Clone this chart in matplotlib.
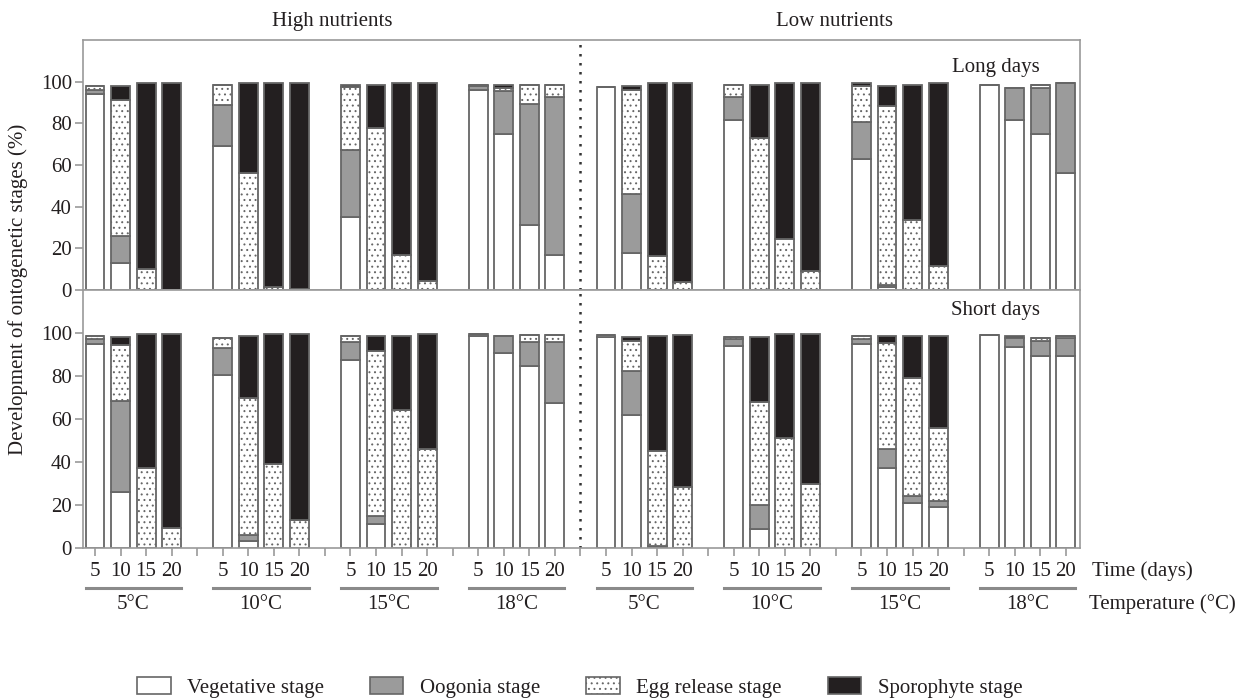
import numpy as np
import matplotlib
matplotlib.use('Agg')
import matplotlib.pyplot as plt
from matplotlib.patches import Patch
from matplotlib.transforms import blended_transform_factory

plt.rcParams['font.family'] = ['Liberation Serif', 'DejaVu Serif']
plt.rcParams['hatch.linewidth'] = 0.7

days = ['5', '10', '15', '20']
temps = ['5°C', '10°C', '15°C', '18°C', '5°C', '10°C', '15°C', '18°C']
nutrients = ['High nutrients', 'Low nutrients']
stages = ['Vegetative stage', 'Oogonia stage', 'Egg release stage', 'Sporophyte stage']

# long days (top panel), 8 groups x 4 sampling days
veg_long = [94, 13, 0, 0, 69, 0, 0, 0, 35, 0, 0, 0, 96, 75, 31, 17,
            97.5, 18, 0, 0, 81.5, 0, 0, 0, 63, 1.5, 0, 0, 98.5, 81.5, 75, 56]
oog_long = [2, 13, 0, 0, 20, 0, 0, 0, 32, 0, 0, 0, 2, 20.5, 58.5, 75.5,
            0, 28, 0, 0, 11, 0, 0, 0, 17.5, 1, 0, 0, 0, 15.5, 22, 43.5]
egg_long = [2, 65, 10, 0, 9.5, 56, 1.5, 0.5, 30.5, 78, 17, 4.5, 0.5, 1.5, 9, 6,
            0, 50, 16.5, 4, 6, 73, 24.5, 9, 17.5, 86, 33.5, 11.5, 0, 0, 1.5, 0]
spor_long = [0, 7, 89.5, 99.5, 0, 43.5, 98, 99, 1, 20.5, 82.5, 95, 0, 1.5, 0, 0,
             0, 2, 83, 95.5, 0, 25.5, 75, 90.5, 1.5, 9.5, 65, 88, 0, 0, 0, 0]

# short days (bottom panel)
veg_short = [95, 26, 0, 0, 80.5, 3.5, 0, 0, 87.5, 11, 0, 0, 98.5, 90.5, 84.5, 67.5,
             98, 62, 0, 0, 94, 9, 0, 0, 95, 37, 21, 19, 99, 93.5, 89.5, 89.5]
oog_short = [2, 42.5, 0, 0, 12.5, 2.5, 0, 0, 8.5, 4, 0, 0, 1, 8, 11.5, 28.5,
             0, 20.5, 1, 0, 3, 11, 0, 0, 2, 9, 3, 3, 0, 4, 7, 8]
egg_short = [1.5, 26, 37, 9.5, 4.5, 64, 39, 13, 2.5, 76.5, 64, 46, 0, 0, 3, 3,
             1, 14, 44, 28.5, 1, 48, 51, 30, 1.5, 49.5, 55, 34, 0, 0, 1, 1]
spor_short = [0, 3.5, 62.5, 90, 0, 28.5, 60.5, 86.5, 0, 7, 34.5, 53.5, 0, 0, 0, 0,
              0, 1.5, 53.5, 70.5, 0, 30, 48.5, 69.5, 0, 3, 19.5, 42.5, 0, 1, 0, 0]

ink = '#231f20'
grey_line = '#9a9a9a'
edge = '#666666'
face = ['white', '#9b9b9b', 'white', '#231f20']
hatches = [None, None, '...', None]

# 4 bars per group, one empty slot between groups
x = np.array([g * 5 + b for g in range(8) for b in range(4)])

fig = plt.figure(figsize=(12.44, 7), dpi=100)
ax_top = fig.add_axes([0.0667, 0.5857, 0.8014, 0.3571])
ax_bot = fig.add_axes([0.0667, 0.2171, 0.8014, 0.3686])


def draw_panel(ax, series):
    bottom = np.zeros(len(x))
    for vals, fc, h in zip(series, face, hatches):
        vals = np.array(vals, dtype=float)
        ax.bar(x, vals, bottom=bottom, width=0.74, color=fc, edgecolor=edge,
               linewidth=1.3, hatch=h)
        bottom += vals
    ax.set_xlim(-0.47, 38.55)
    ax.set_ylim(0, 120)
    ax.set_yticks(range(0, 101, 20))
    ax.tick_params(axis='y', direction='out', length=6, width=1.2, color=grey_line,
                   labelsize=15, labelcolor=ink, pad=2)
    for s in ax.spines.values():
        s.set_color(grey_line)
        s.set_linewidth(1.2)
    ax.axvline(19, color='#333333', linestyle=(0, (1, 2.6)), linewidth=1.8)


draw_panel(ax_top, [veg_long, oog_long, egg_long, spor_long])
draw_panel(ax_bot, [veg_short, oog_short, egg_short, spor_short])

ax_top.tick_params(axis='x', bottom=False, labelbottom=False)

slot_labels = [''] * 39
for xi, d in zip(x, days * 8):
    slot_labels[xi] = d
ax_bot.set_xticks(range(39))
ax_bot.set_xticklabels(slot_labels)
ax_bot.tick_params(axis='x', direction='out', length=6, width=1.2, color=grey_line,
                   labelsize=15, labelcolor=ink, pad=4)

tr = blended_transform_factory(ax_bot.transData, ax_bot.transAxes)
for g, t in enumerate(temps):
    x0 = g * 5 - 0.37
    x1 = g * 5 + 3 + 0.37
    ax_bot.plot([x0, x1], [-0.155, -0.155], color='#8a8a8a', linewidth=2.2,
                transform=tr, clip_on=False)
    ax_bot.text(g * 5 + 1.5, -0.218, t, transform=tr, ha='center', va='center',
                fontsize=15, color=ink)

ax_bot.text(1.012, -0.089, 'Time (days)', transform=ax_bot.transAxes,
            ha='left', va='center', fontsize=15, color=ink)
ax_bot.text(1.009, -0.218, 'Temperature (°C)', transform=ax_bot.transAxes,
            ha='left', va='center', fontsize=15, color=ink)

ax_top.text(0.96, 0.89, 'Long days', transform=ax_top.transAxes,
            ha='right', va='center', fontsize=15, color=ink)
ax_bot.text(0.96, 0.92, 'Short days', transform=ax_bot.transAxes,
            ha='right', va='center', fontsize=15, color=ink)

fig.text(0.267, 0.969, nutrients[0], ha='center', va='center', fontsize=15, color=ink)
fig.text(0.671, 0.969, nutrients[1], ha='center', va='center', fontsize=15, color=ink)

fig.text(0.0145, 0.586, 'Development of ontogenetic stages (%)', rotation=90,
         ha='center', va='center', fontsize=15, color=ink)

handles = [Patch(facecolor=fc, edgecolor=edge, linewidth=1.2, hatch=h)
           for fc, h in zip(face, hatches)]
fig.legend(handles, stages, loc='center', bbox_to_anchor=(0.466, 0.018), ncol=4,
           frameon=False, fontsize=15, handlelength=1.6, handleheight=0.9,
           handletextpad=0.8, columnspacing=2.2, labelcolor=ink)

fig.savefig('out.png', dpi=100)
